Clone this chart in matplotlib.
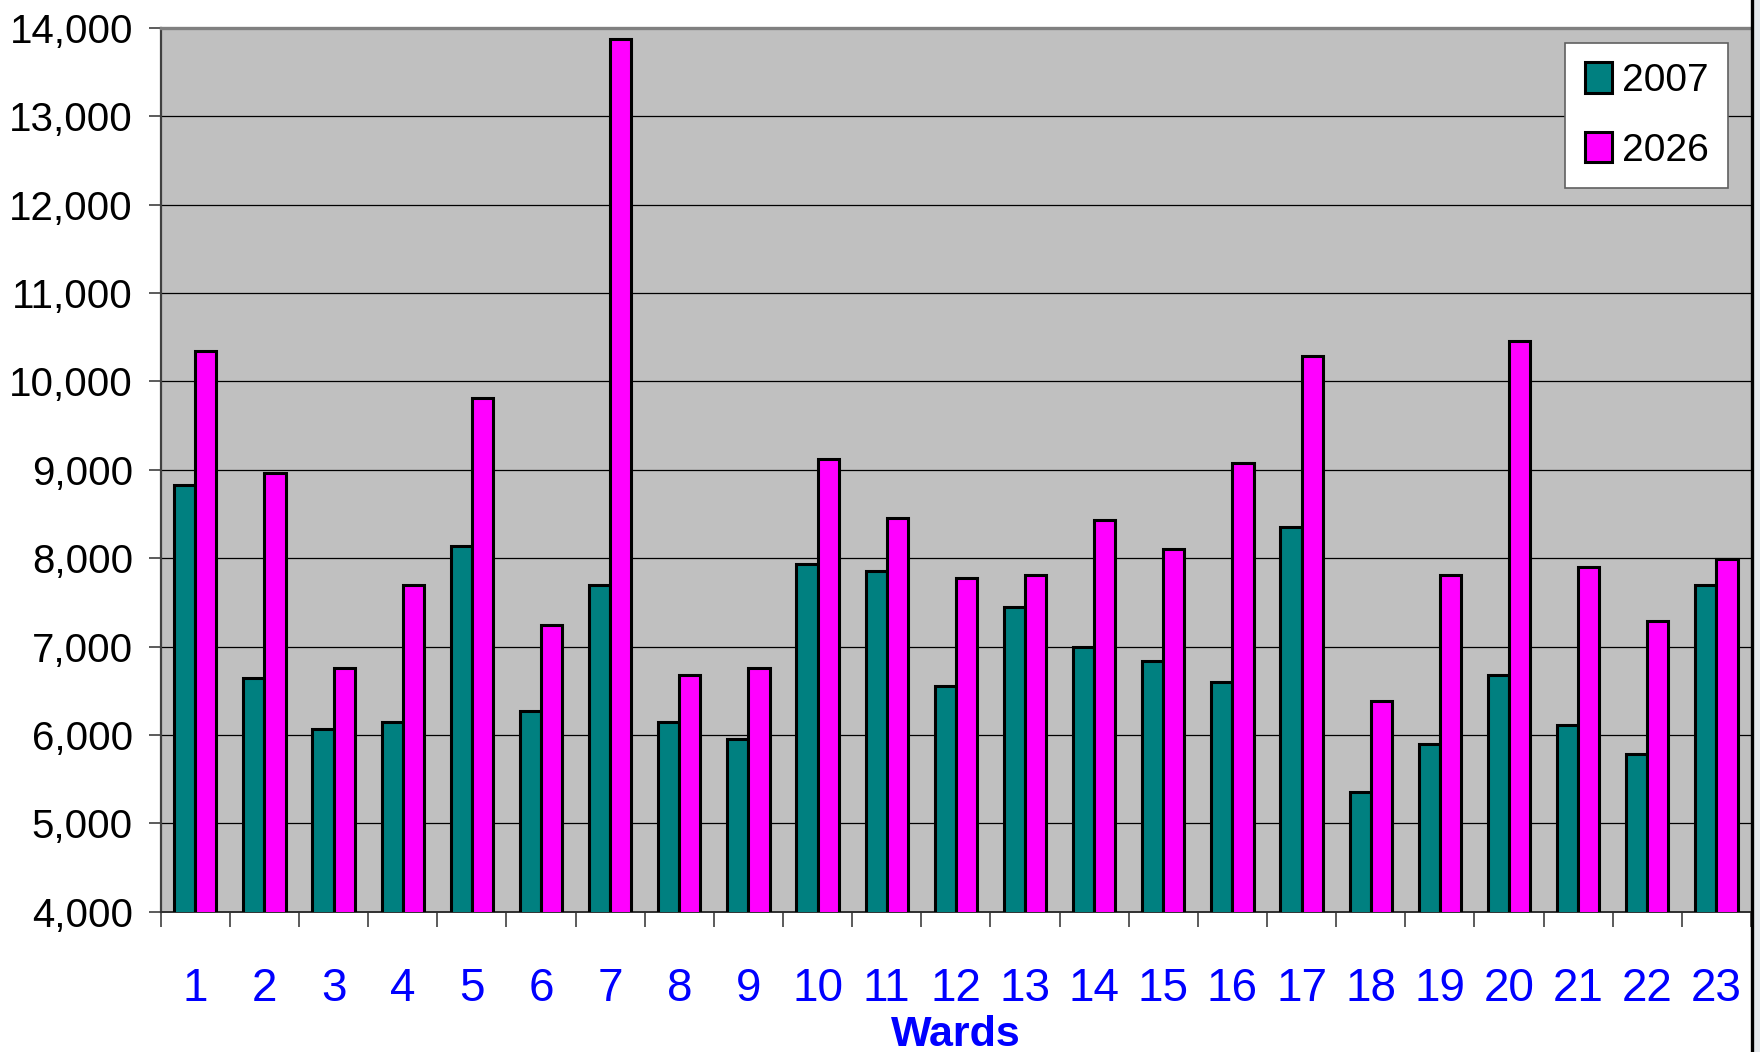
import matplotlib.pyplot as plt
import numpy as np
from matplotlib.lines import Line2D
from matplotlib.patches import Rectangle

plt.rcParams['font.family'] = ['Liberation Sans', 'DejaVu Sans']

# data : ward population 2007 vs 2026
wards = [str(i) for i in range(1, 24)]
pop_2007 = [8830, 6640, 6070, 6150, 8140, 6270, 7700, 6150, 5950, 7940, 7860, 6550,
            7450, 7000, 6840, 6600, 8350, 5360, 5900, 6680, 6110, 5780, 7700]
pop_2026 = [10340, 8960, 6760, 7700, 9810, 7250, 13880, 6680, 6760, 9120, 8460, 7780,
            7810, 8430, 8100, 9080, 10290, 6390, 7810, 10460, 7900, 7290, 7990]
yticks = list(range(4000, 14001, 1000))

fig = plt.figure(figsize=(17.6, 10.52), dpi=100)
ax = fig.add_axes([0.0913, 0.1333, 0.9036, 0.8401])
ax.set_facecolor('#C0C0C0')

idx = np.arange(len(wards))
w = 0.306
ax.bar(idx - w / 2, pop_2007, width=w, color='#008080', edgecolor='black', linewidth=2.2, label='2007', zorder=3)
ax.bar(idx + w / 2, pop_2026, width=w, color='#FF00FF', edgecolor='black', linewidth=2.2, label='2026', zorder=3)

# y axis
ax.set_ylim(4000, 14000)
ax.set_yticks(yticks)
ax.set_yticklabels(['{:,}'.format(v) for v in yticks], fontsize=29)
ax.yaxis.grid(True, color='black', linewidth=0.9)
ax.set_axisbelow(True)
ax.tick_params(axis='y', direction='out', length=9, width=1.2, color='#404040', pad=11)

# x axis : labels at centres, ticks between groups
ax.set_xlim(-0.5, len(wards) - 0.5)
ax.set_xticks(idx)
ax.set_xticklabels(wards, fontsize=33, color='#0000FF')
ax.set_xticks(np.arange(-0.5, len(wards) - 0.4, 1), minor=True)
ax.tick_params(axis='x', which='major', length=0, pad=40)
ax.tick_params(axis='x', which='minor', direction='out', length=11, width=1.2, color='#404040')
ax.set_xlabel('Wards', fontsize=31, fontweight='bold', color='#0000FF', labelpad=3)

# spines
ax.spines['top'].set_color('#808080')
ax.spines['top'].set_linewidth(2.4)
ax.spines['left'].set_color('#404040')
ax.spines['left'].set_linewidth(1.6)
ax.spines['bottom'].set_color('#303030')
ax.spines['bottom'].set_linewidth(1.4)
ax.spines['right'].set_visible(False)

# legend
leg = ax.legend(loc='upper right', bbox_to_anchor=(0.9855, 0.983), borderaxespad=0,
                fontsize=28, handlelength=0.7, handleheight=0.82, handletextpad=0.25,
                labelspacing=0.85, borderpad=0.5, fancybox=False, framealpha=1)
leg.get_frame().set_edgecolor('#606060')
leg.get_frame().set_linewidth(1.2)

# border line on the right edge of the picture
fig.add_artist(Rectangle((0.9960, 0), 0.004, 1, transform=fig.transFigure, color='#E4E8EC', zorder=0))
fig.add_artist(Line2D([0.9953, 0.9953], [0, 1], transform=fig.transFigure, color='black', linewidth=2.4))

plt.savefig('out.png', dpi=100)
